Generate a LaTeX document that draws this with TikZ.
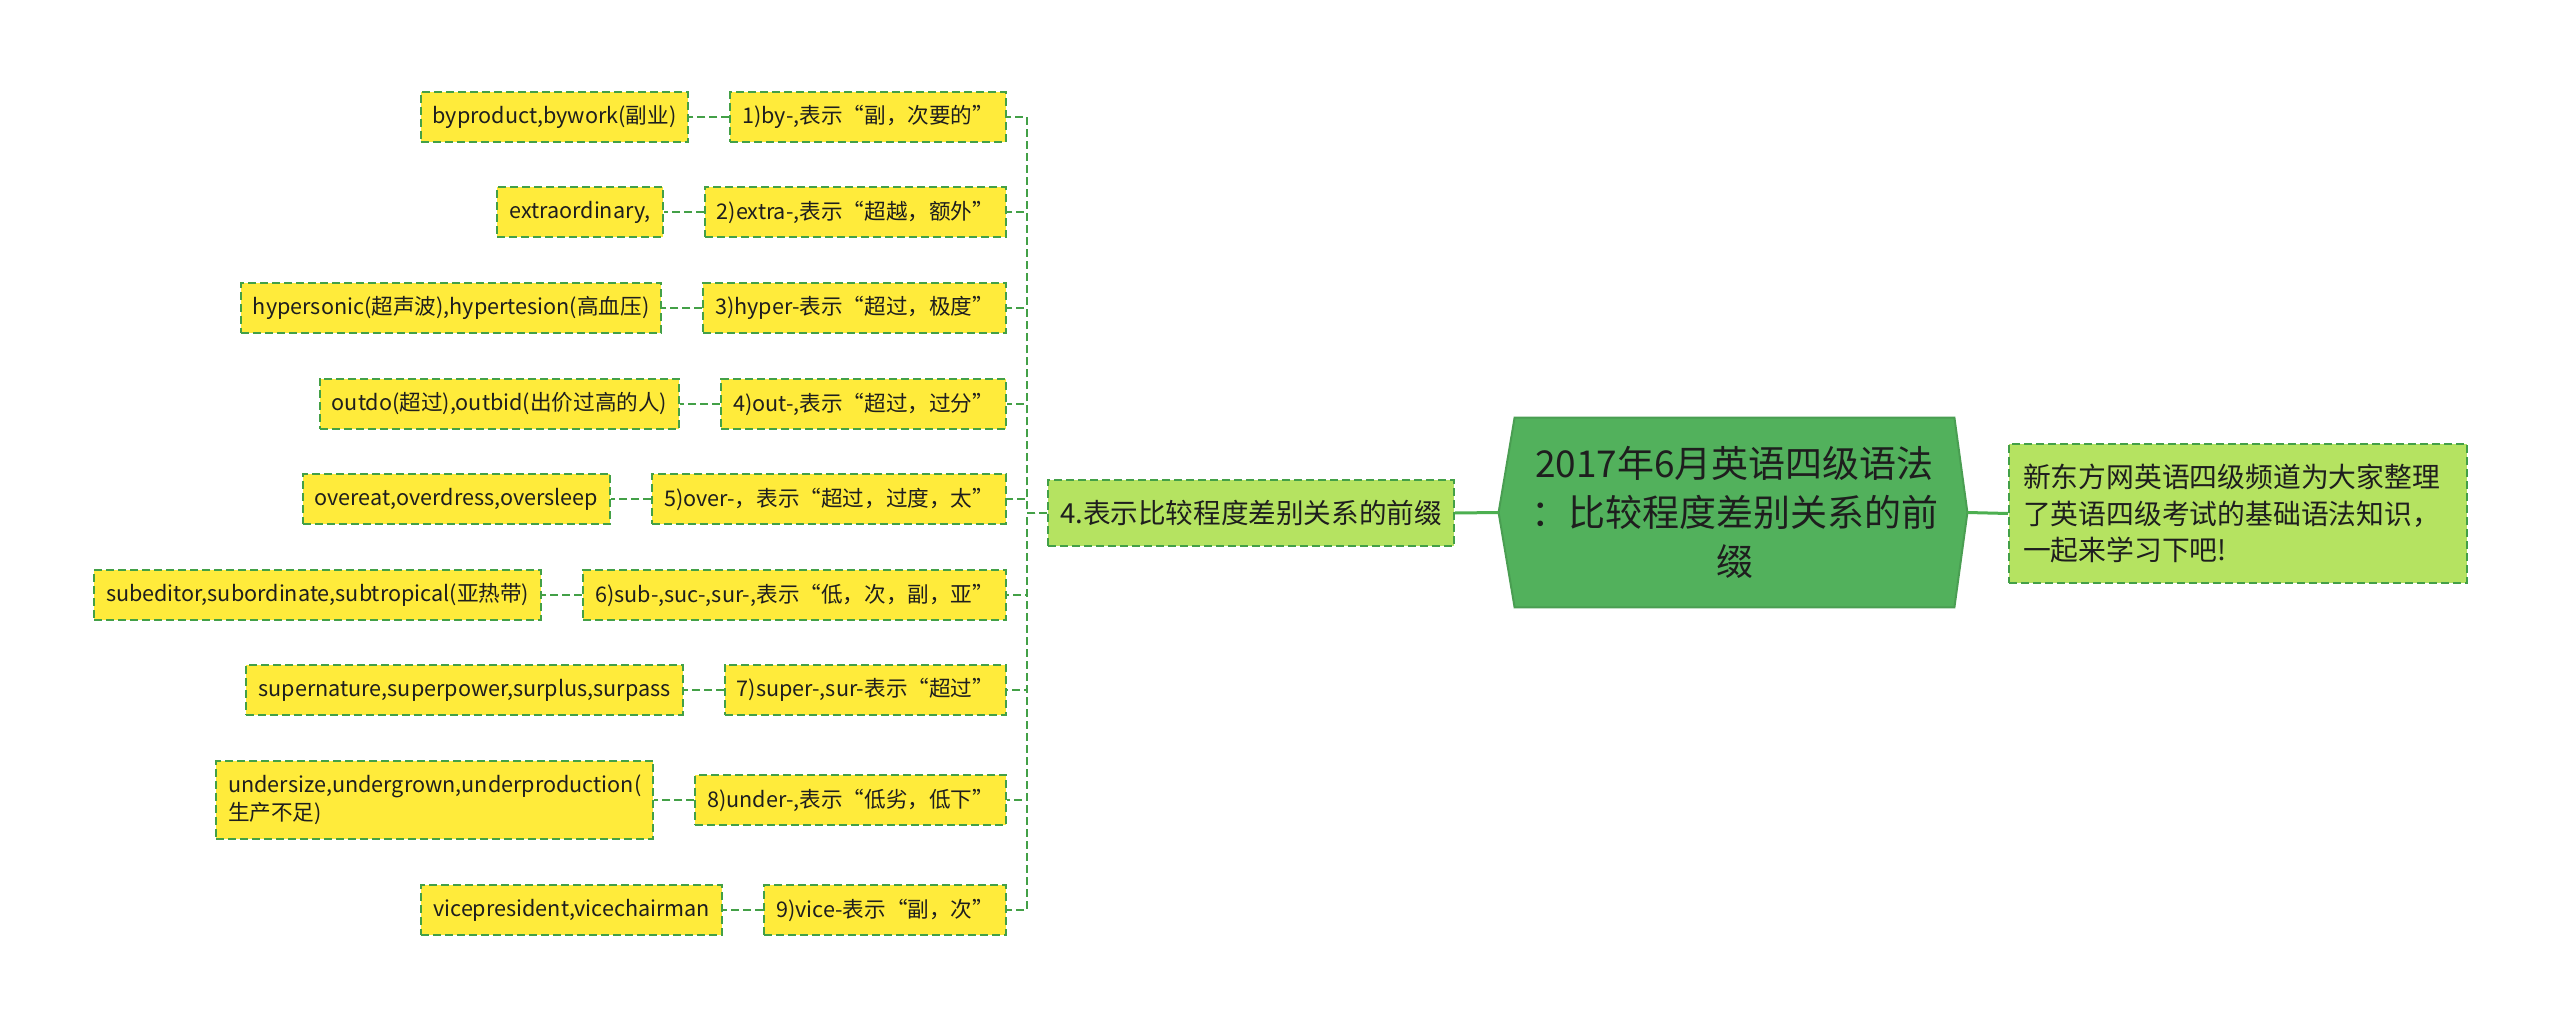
\documentclass[tikz,border=0pt]{standalone}
\usepackage{fontspec}
\setmainfont{Noto Sans CJK SC}
\usetikzlibrary{positioning,backgrounds}

\definecolor{leafyellow}{HTML}{FFEB3B}
\definecolor{dashgreen}{HTML}{43A047}
\definecolor{wiregreen}{HTML}{4CAF50}
\definecolor{lightgreen}{HTML}{B5E361}
\definecolor{rootgreen}{HTML}{52B15C}
\definecolor{rootedge}{HTML}{4A9E52}
\definecolor{ink}{HTML}{1E1E1E}

\tikzset{
  dashbox/.style={draw=dashgreen, line width=1pt, dash pattern=on 4pt off 2pt,
    text=ink, inner xsep=6pt, inner ysep=3pt, minimum height=25pt},
  stembox/.style={dashbox, fill=leafyellow, anchor=east, font=\fontsize{10.8}{14}\selectfont},
  examplebox/.style={dashbox, fill=leafyellow, font=\fontsize{10.8}{14}\selectfont},
  branchbox/.style={dashbox, fill=lightgreen, minimum height=33pt, font=\fontsize{13.8}{17}\selectfont},
  notebox/.style={dashbox, fill=lightgreen, anchor=west, text width=215pt, align=left,
    inner xsep=7pt, minimum height=69.5pt, font=\fontsize{13.9}{18.3}\selectfont},
  rootbox/.style={text=ink, align=center, minimum width=219.5pt, minimum height=94.5pt,
    font=\fontsize{18.5}{24.5}\selectfont},
  dashlink/.style={dashgreen, line width=1pt, dash pattern=on 4pt off 2pt},
  solidlink/.style={wiregreen, line width=1.5pt},
}

\begin{document}
\begin{tikzpicture}[x=0.5pt,y=-0.5pt]
	\useasboundingbox (0,0) rectangle (2560,1027);
	% centre and the two sides
	\node[rootbox] (root) at (1734.5,512.5) {2017年6月英语四级语法\\：比较程度差别关系的前\\缀};
	\begin{scope}[on background layer]
		\fill[rootgreen, draw=rootedge, line width=1pt] (root.north west) -- (root.north east) -- ([xshift=6.5pt]root.east)
			-- (root.south east) -- (root.south west) -- ([xshift=-8pt]root.west) -- cycle;
	\end{scope}
	\node[branchbox, anchor=west] (comp) at (1047,513) {4.表示比较程度差别关系的前缀};
	\node[notebox] (intro) at (2008,513.5) {新东方网英语四级频道为大家整理\\了英语四级考试的基础语法知识，\\一起来学习下吧!};
	\draw[solidlink] ([xshift=-8pt]root.west) -- (comp.east);
	\draw[solidlink] ([xshift=6.5pt]root.east) -- (intro.west);

	% the nine prefixes
	\node[stembox] (by) at (1007,117) {1)by-,表示“副，次要的”};
	\node[stembox] (extra) at (1007,212) {2)extra-,表示“超越，额外”};
	\node[stembox] (hyper) at (1007,308) {3)hyper-表示“超过，极度”};
	\node[stembox] (out) at (1007,404) {4)out-,表示“超过，过分”};
	\node[stembox] (over) at (1007,499) {5)over-，表示“超过，过度，太”};
	\node[stembox] (sub) at (1007,595) {6)sub-,suc-,sur-,表示“低，次，副，亚”};
	\node[stembox] (super) at (1007,690) {7)super-,sur-表示“超过”};
	\node[stembox] (under) at (1007,800) {8)under-,表示“低劣，低下”};
	\node[stembox] (vice) at (1007,910) {9)vice-表示“副，次”};

	% their examples
	\node[examplebox, left=20pt of by] (by-ex) {byproduct,bywork(副业)};
	\node[examplebox, left=20pt of extra] (extra-ex) {extraordinary,};
	\node[examplebox, left=20pt of hyper] (hyper-ex) {hypersonic(超声波),hypertesion(高血压)};
	\node[examplebox, left=20pt of out] (out-ex) {outdo(超过),outbid(出价过高的人)};
	\node[examplebox, left=20pt of over] (over-ex) {overeat,overdress,oversleep};
	\node[examplebox, left=20pt of sub] (sub-ex) {subeditor,subordinate,subtropical(亚热带)};
	\node[examplebox, left=20pt of super] (super-ex) {supernature,superpower,surplus,surpass};
	\node[examplebox, left=20pt of under, align=left, minimum height=39pt] (under-ex) {undersize,undergrown,underproduction(\\生产不足)};
	\node[examplebox, left=20pt of vice] (vice-ex) {vicepresident,vicechairman};

	\foreach \p in {by,extra,hyper,out,over,sub,super,under,vice}{
		\draw[dashlink] (comp.west) -- ++(-10pt,0) |- (\p.east);
		\draw[dashlink] (\p.west) -- (\p-ex.east);
	}
\end{tikzpicture}
\end{document}
